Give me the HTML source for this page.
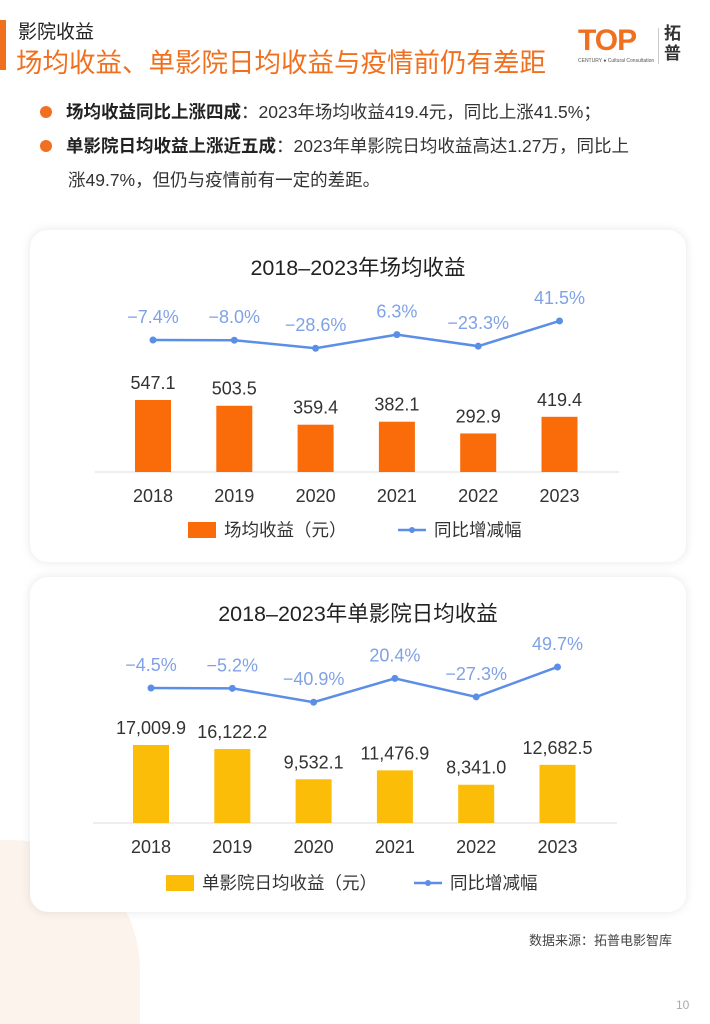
<!DOCTYPE html>
<html><head><meta charset="utf-8"><style>
html,body{margin:0;width:710px;height:1024px;overflow:hidden;}
body{position:relative;background:#fff;font-family:"Liberation Sans","Noto Sans CJK SC",sans-serif;}
.abs{position:absolute;}
.card{position:absolute;left:30px;width:656px;background:#fff;border-radius:18px;box-shadow:0 0 10px rgba(0,0,0,0.10);}
.b{font-weight:bold;color:#222}
</style></head><body>
<div class="abs" style="left:0;top:840px;width:140px;height:184px;border-radius:0 130px 0 0;background:#fdf3ed;"></div>
<div class="abs" style="left:0;top:20px;width:6px;height:50px;background:#f07020;"></div>
<div class="abs" style="left:18px;top:17px;font-size:19px;color:#222;">影院收益</div>
<div class="abs" style="left:16px;top:41px;font-size:26.5px;color:#f07020;">场均收益、单影院日均收益与疫情前仍有差距</div>
<div class="abs" style="left:578px;top:24px;width:115px;height:44px;overflow:hidden;">
 <div style="position:absolute;left:0;top:0;font-size:30px;font-weight:bold;color:#f07020;letter-spacing:-1px;">TOP</div>
 <div style="position:absolute;left:0;top:34px;font-size:5px;color:#555;white-space:nowrap;">CENTURY ● Cultural Consultation</div>
 <div style="position:absolute;left:80px;top:4px;width:1px;height:36px;background:#ccc;"></div>
 <div style="position:absolute;left:86px;top:0;font-size:17px;line-height:20px;font-weight:bold;color:#333;">拓<br>普</div>
</div>
<div class="abs" style="left:40px;top:95px;font-size:17.5px;color:#333;line-height:34px;white-space:nowrap;">
<span style="display:inline-block;width:12px;height:12px;border-radius:50%;background:#f07020;margin-right:14px;"></span><span class="b">场均收益同比上涨四成</span>：2023年场均收益419.4元，同比上涨41.5%；</div>
<div class="abs" style="left:40px;top:129px;width:640px;font-size:17.5px;color:#333;line-height:34px;white-space:nowrap;">
<span style="display:inline-block;width:12px;height:12px;border-radius:50%;background:#f07020;margin-right:14px;"></span><span class="b">单影院日均收益上涨近五成</span>：2023年单影院日均收益高达1.27万，同比上<br><span style="padding-left:28px">涨49.7%，但仍与疫情前有一定的差距。</span></div>

<div class="card" style="top:230px;height:332px;"></div>
<div class="card" style="top:577px;height:335px;"></div>
<svg class="abs" style="left:0;top:0" width="710" height="1024" id="svg"></svg>
<div class="abs" style="left:529px;top:930px;font-size:13px;color:#444;">数据来源：拓普电影智库</div>
<div class="abs" style="left:676px;top:998px;font-size:12px;color:#aaa;">10</div>
<script>
const years=["2018","2019","2020","2021","2022","2023"];
const rev1=[547.1,503.5,359.4,382.1,292.9,419.4];
const yoy1=[-7.4,-8.0,-28.6,6.3,-23.3,41.5];
const rev1Labels=["547.1","503.5","359.4","382.1","292.9","419.4"];
const rev2=[17009.9,16122.2,9532.1,11476.9,8341.0,12682.5];
const yoy2=[-4.5,-5.2,-40.9,20.4,-27.3,49.7];
const rev2Labels=["17,009.9","16,122.2","9,532.1","11,476.9","8,341.0","12,682.5"];
const NS="http://www.w3.org/2000/svg",svg=document.getElementById('svg');
function mk(t,a,txt){const e=document.createElementNS(NS,t);for(const k in a)e.setAttribute(k,a[k]);if(txt!==undefined)e.textContent=txt;svg.appendChild(e);return e;}
function draw(o){
 const x=i=>o.x0+i*81.3;
 const yb=v=>o.base-v*o.bk;
 const yl=v=>o.l0-v*0.389;
 let t=mk('text',{x:358,y:o.titleY,'text-anchor':'middle','font-size':21.5,fill:'#222'},o.title);
 
 let ax=mk('line',{x1:o.x0-58,x2:o.x0+466,y1:o.base,y2:o.base,stroke:'#ddd','stroke-width':1});
 
 o.vals.forEach((v,i)=>{
  let r=mk('rect',{x:x(i)-18,y:yb(v),width:36,height:o.base-yb(v),fill:o.color});
  
  let l=mk('text',{x:x(i),y:yb(v)-11,'text-anchor':'middle','font-size':18,fill:'#333'},o.labels[i]);
  
  let yt=mk('text',{x:x(i),y:o.base+30,'text-anchor':'middle','font-size':18,fill:'#333'},years[i]);
  
 });
 let p=mk('polyline',{points:o.yoy.map((v,i)=>x(i)+','+yl(v)).join(' '),fill:'none',stroke:'#5b8ee6','stroke-width':2.5});
 
 o.yoy.forEach((v,i)=>{
  let c=mk('circle',{cx:x(i),cy:yl(v),r:3.5,fill:'#5b8ee6'});
  
  let l=mk('text',{x:x(i),y:yl(v)-17,'text-anchor':'middle','font-size':18,fill:'#7fa2e6'},(v<0?'\u2212'+(-v).toFixed(1):v.toFixed(1))+'%');
  
 });
 let lb=mk('rect',{x:o.legX,y:o.legY-8,width:28,height:16,fill:o.color});
 
 let lt=mk('text',{x:o.legX+36,y:o.legY+6,'font-size':17.5,fill:'#333'},o.legText);
 
 let ll=mk('line',{x1:o.legX2,x2:o.legX2+28,y1:o.legY,y2:o.legY,stroke:'#5b8ee6','stroke-width':2.5});
 
 mk('circle',{cx:o.legX2+14,cy:o.legY,r:3,fill:'#5b8ee6'});
 let l2=mk('text',{x:o.legX2+36,y:o.legY+6,'font-size':17.5,fill:'#333'},'同比增减幅');
 
}
draw({x0:153,base:472,bk:0.1316,l0:337.1,vals:rev1,labels:rev1Labels,yoy:yoy1,color:'#fa6b0a',title:'2018–2023年场均收益',titleY:275,legX:188,legY:530,legText:'场均收益（元）',legX2:398});
draw({x0:151,base:823,bk:0.004586,l0:686.3,vals:rev2,labels:rev2Labels,yoy:yoy2,color:'#fbbd08',title:'2018–2023年单影院日均收益',titleY:621,legX:166,legY:883,legText:'单影院日均收益（元）',legX2:414});
</script>
</body></html>
